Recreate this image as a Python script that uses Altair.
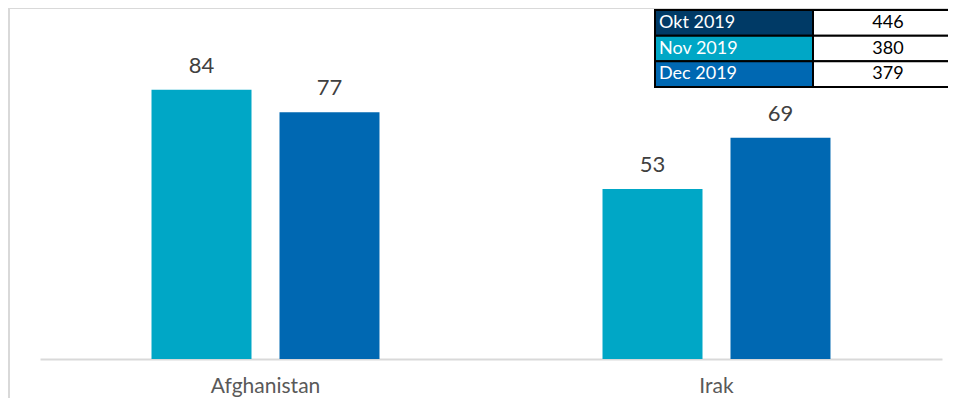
import altair as alt
import pandas as pd

# ---- data ----
countries = ["Afghanistan", "Afghanistan", "Irak", "Irak"]
bar_months = ["Nov 2019", "Dec 2019", "Nov 2019", "Dec 2019"]
bar_values = [84, 77, 53, 69]

table_months = ["Okt 2019", "Nov 2019", "Dec 2019"]
table_totals = [446, 380, 379]

month_colors = ["#003A66", "#00A7C6", "#0068B2"]

FONT = "Lato"

bars_df = pd.DataFrame({"country": countries, "month": bar_months, "value": bar_values})

cells = []
for m, t, c in zip(table_months, table_totals, month_colors):
    cells.append({"month": m, "col": "label", "text": m, "fill": c})
    cells.append({"month": m, "col": "total", "text": str(t), "fill": "white"})
tbl_df = pd.DataFrame(cells)

# ---- bars ----
x = alt.X(
    "country:N",
    scale=alt.Scale(paddingInner=0.4945, paddingOuter=0.24725),
    axis=alt.Axis(
        title=None, labelAngle=0, ticks=False, domainColor="#D9D9D9", domainWidth=2,
        labelFontSize=21, labelColor="#595959", labelFont=FONT, labelPadding=16, grid=False,
    ),
)
xoff = alt.XOffset(
    "month:N", sort=["Nov 2019", "Dec 2019"],
    scale=alt.Scale(paddingInner=0.21875, paddingOuter=0),
)
y = alt.Y("value:Q", scale=alt.Scale(domain=[0, 109.5], nice=False, zero=True), axis=None)
color = alt.Color(
    "month:N",
    scale=alt.Scale(domain=table_months, range=month_colors),
    legend=None,
)

bars = alt.Chart(bars_df).mark_bar().encode(x=x, xOffset=xoff, y=y, color=color)
labels = alt.Chart(bars_df).mark_text(
    dy=-17, baseline="alphabetic", fontSize=22, font=FONT, color="#404040"
).encode(x=x, xOffset=xoff, y=y, text="value:Q")

bar_layer = alt.layer(bars, labels)

# ---- table ----
tx_scale = alt.Scale(domain=["label", "total"], range=[615, 931], paddingInner=0, paddingOuter=0)
ty_scale = alt.Scale(domain=table_months, range=[2, 79], paddingInner=0, paddingOuter=0)

cells_rect = alt.Chart(tbl_df).mark_rect(stroke="black", strokeWidth=2).encode(
    x=alt.X("col:N", scale=tx_scale, axis=None),
    y=alt.Y("month:N", scale=ty_scale, axis=None),
    fill=alt.Fill("fill:N", scale=None),
)
cell_lab = alt.Chart(tbl_df).transform_filter(alt.datum.col == "label").mark_text(
    align="left", baseline="middle", dx=4, fontSize=18, font=FONT, color="white"
).encode(
    x=alt.X("col:N", scale=tx_scale, axis=None, bandPosition=0),
    y=alt.Y("month:N", scale=ty_scale, axis=None, bandPosition=0.5),
    text="text:N",
)
cell_val = alt.Chart(tbl_df).transform_filter(alt.datum.col == "total").mark_text(
    align="center", baseline="middle", dx=-4, fontSize=18, font=FONT, color="black"
).encode(
    x=alt.X("col:N", scale=tx_scale, axis=None, bandPosition=0.5),
    y=alt.Y("month:N", scale=ty_scale, axis=None, bandPosition=0.5),
    text="text:N",
)

table_layer = alt.layer(cells_rect, cell_lab, cell_val)

# ---- frame ----
frame_top = alt.Chart(bars_df).mark_rule(color="#D9D9D9", strokeWidth=2).encode(
    x=alt.value(-31), x2=alt.value(940), y=alt.value(0)
)
frame_left = alt.Chart(bars_df).mark_rule(color="#D9D9D9", strokeWidth=2).encode(
    x=alt.value(-31), y=alt.value(0), y2=alt.value(400)
)

chart = alt.layer(frame_top, frame_left, bar_layer, table_layer).resolve_scale(
    x="independent", y="independent"
).properties(
    width=902, height=351,
    autosize=alt.AutoSizeParams(type="none"),
    padding={"left": 32, "top": 0, "right": 6, "bottom": 39},
    background="white",
).configure_view(stroke=None)

chart.save("out.html", embed_options={"renderer": "svg", "actions": False})
